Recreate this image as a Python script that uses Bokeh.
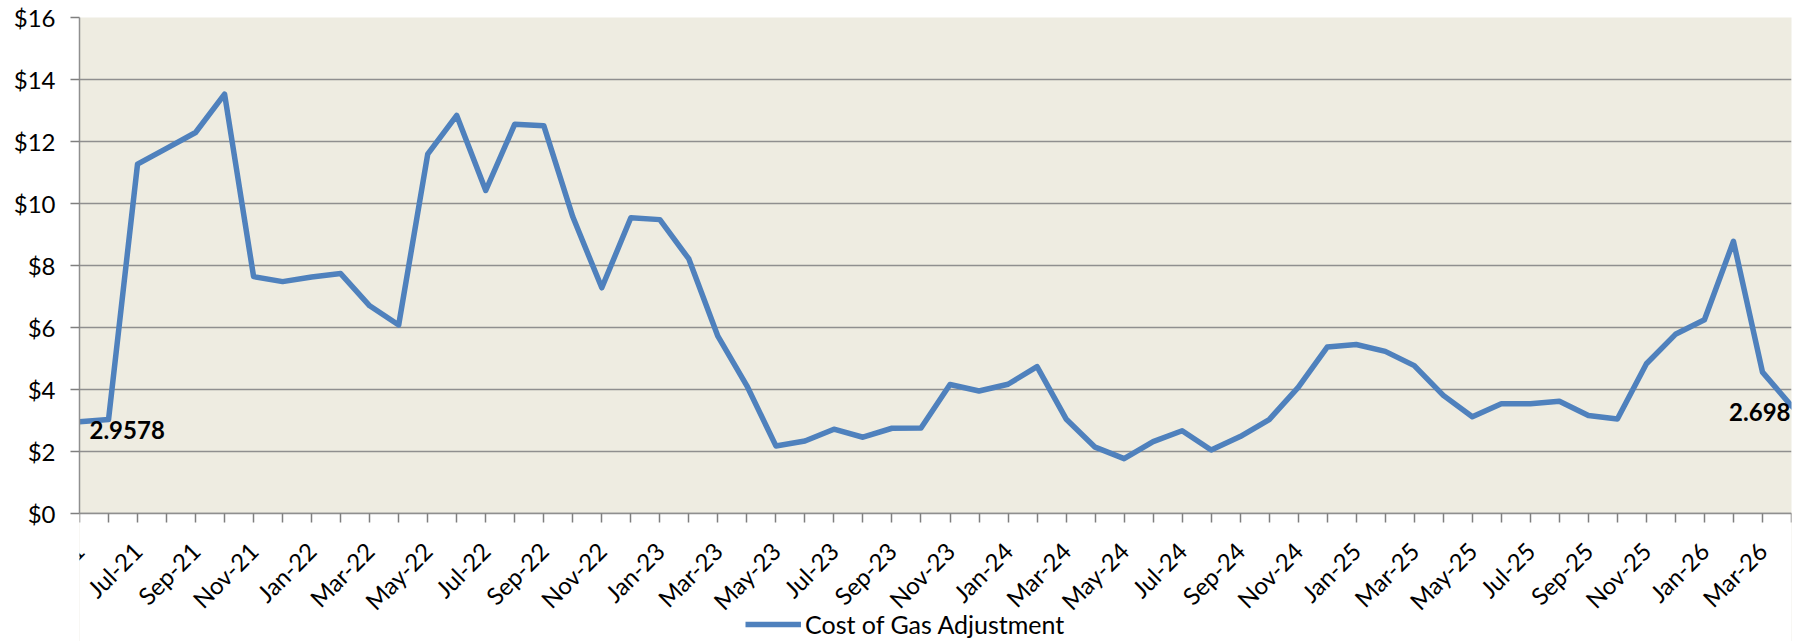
from bokeh.plotting import figure
from bokeh.models import (ColumnDataSource, FixedTicker, PrintfTickFormatter, Range1d,
                          Legend, LegendItem, Label, BoxAnnotation)
from bokeh.embed import file_html
from bokeh.resources import INLINE
import math

# ---------------- data ----------------
months = ["May-21", "Jun-21", "Jul-21", "Aug-21", "Sep-21", "Oct-21", "Nov-21", "Dec-21",
          "Jan-22", "Feb-22", "Mar-22", "Apr-22", "May-22", "Jun-22", "Jul-22", "Aug-22",
          "Sep-22", "Oct-22", "Nov-22", "Dec-22", "Jan-23", "Feb-23", "Mar-23", "Apr-23",
          "May-23", "Jun-23", "Jul-23", "Aug-23", "Sep-23", "Oct-23", "Nov-23", "Dec-23",
          "Jan-24", "Feb-24", "Mar-24", "Apr-24", "May-24", "Jun-24", "Jul-24", "Aug-24",
          "Sep-24", "Oct-24", "Nov-24", "Dec-24", "Jan-25", "Feb-25", "Mar-25", "Apr-25",
          "May-25", "Jun-25", "Jul-25", "Aug-25", "Sep-25", "Oct-25", "Nov-25", "Dec-25",
          "Jan-26", "Feb-26", "Mar-26", "Apr-26", "May-26"]

cost_of_gas = [2.9578, 3.03, 11.27, 11.78, 12.29, 13.53, 7.64, 7.48,
               7.63, 7.74, 6.70, 6.08, 11.59, 12.84, 10.42, 12.56,
               12.51, 9.57, 7.28, 9.54, 9.48, 8.21, 5.72, 4.12,
               2.18, 2.34, 2.72, 2.46, 2.75, 2.76, 4.16, 3.95,
               4.17, 4.74, 3.05, 2.14, 1.77, 2.32, 2.67, 2.05,
               2.48, 3.03, 4.07, 5.37, 5.45, 5.23, 4.77, 3.81,
               3.12, 3.54, 3.54, 3.62, 3.16, 3.05, 4.83, 5.78,
               6.25, 8.78, 4.56, 3.47, 2.698]

y_ticks = [0, 2, 4, 6, 8, 10, 12, 14, 16]
series_name = "Cost of Gas Adjustment"
last_shown = "Apr-26"

# ---------------- styling / layout ----------------
FONT = "Lato"
LINE_COLOR = "#4F81BD"
BG = "#EEECE1"
GRID = "#8f8f8f"
TICK = "#7f7f7f"
PLOT_H = 496          # height of the tan plotting area in px
FRAME_H = 624         # frame also covers the white strip with month labels and legend
PX_PER_UNIT = PLOT_H / (y_ticks[-1] - y_ticks[0])
y_low = y_ticks[-1] - FRAME_H / PX_PER_UNIT

idx = list(range(len(months)))
src = ColumnDataSource(dict(x=idx, y=cost_of_gas, m=months))
end_i = months.index(last_shown)
shown = idx[:end_i + 1]

p = figure(frame_width=1712, frame_height=FRAME_H, output_backend="svg", toolbar_location=None,
           x_range=Range1d(idx[0], end_i), y_range=Range1d(y_low, y_ticks[-1]),
           min_border_left=79, min_border_right=25, min_border_top=17, min_border_bottom=0)
p.background_fill_color = BG
p.border_fill_color = "white"
p.outline_line_color = None

# white strip below $0
p.add_layout(BoxAnnotation(top=y_ticks[0], fill_color="white", fill_alpha=1.0,
                           line_alpha=0, level="underlay"))

r = p.line("x", "y", source=src, line_color=LINE_COLOR, line_width=5.5, line_join="round")

# y axis
p.yaxis.ticker = FixedTicker(ticks=y_ticks)
p.yaxis.bounds = (y_ticks[0], y_ticks[-1])
p.yaxis.formatter = PrintfTickFormatter(format="$%d")
p.yaxis.major_label_text_font = FONT
p.yaxis.major_label_text_font_size = "24px"
p.yaxis.major_label_text_color = "black"
p.yaxis.axis_line_color = GRID
p.yaxis.axis_line_width = 1.5
p.yaxis.major_tick_line_color = TICK
p.yaxis.major_tick_line_width = 1.5
p.yaxis.major_tick_out = 9
p.yaxis.major_tick_in = 0
p.yaxis.minor_tick_line_color = None
p.yaxis.major_label_standoff = 15

# x axis drawn along $0, ticks every month, labels every second month
p.xaxis.fixed_location = y_ticks[0]
p.xaxis.ticker = FixedTicker(ticks=shown)
p.xaxis.major_label_overrides = {i: (months[i] if i % 2 == 0 else "") for i in shown}
p.xaxis.major_label_orientation = math.pi / 4
p.xaxis.major_label_text_font = FONT
p.xaxis.major_label_text_font_size = "24px"
p.xaxis.major_label_text_color = "black"
p.xaxis.axis_line_color = GRID
p.xaxis.axis_line_width = 1.5
p.xaxis.major_tick_line_color = TICK
p.xaxis.major_tick_line_width = 1.5
p.xaxis.major_tick_out = 9
p.xaxis.major_tick_in = 0
p.xaxis.minor_tick_line_color = None
p.xaxis.major_label_standoff = 24

p.xgrid.grid_line_color = None
p.ygrid.grid_line_color = GRID
p.ygrid.grid_line_width = 1.5
p.ygrid.ticker = FixedTicker(ticks=y_ticks)

# data labels
p.add_layout(Label(x=idx[0], y=cost_of_gas[0], text=f"{cost_of_gas[0]}",
                   x_offset=10, y_offset=1, text_align="left", text_baseline="top",
                   text_font=FONT, text_font_style="bold", text_font_size="24px",
                   text_color="black"))
p.add_layout(Label(x=end_i, y=cost_of_gas[end_i], text=f"{cost_of_gas[-1]}",
                   x_offset=-1, y_offset=3, text_align="right", text_baseline="top",
                   text_font=FONT, text_font_style="bold", text_font_size="24px",
                   text_color="black"))

legend = Legend(items=[LegendItem(label=series_name, renderers=[r])],
                location=(666, 2), orientation="horizontal",
                border_line_color=None, background_fill_alpha=0,
                label_text_font=FONT, label_text_font_size="25px",
                label_text_color="black", glyph_width=56, glyph_height=20,
                label_standoff=4, padding=2, margin=0, spacing=0)
p.add_layout(legend, "center")

open("out.html", "w").write(file_html(p, INLINE))
